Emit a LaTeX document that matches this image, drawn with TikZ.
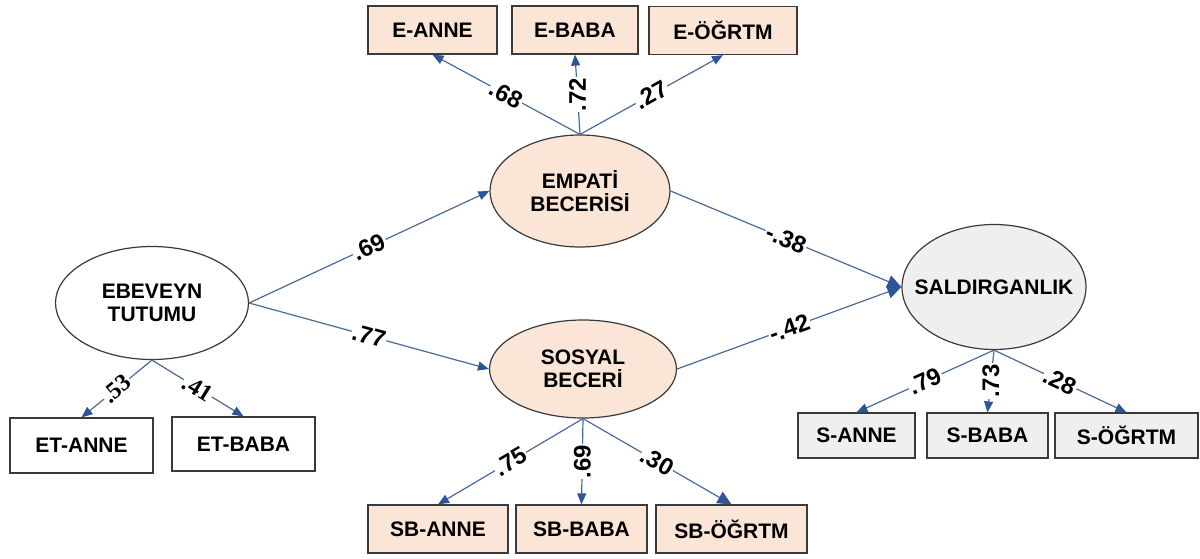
\documentclass[tikz,border=0pt]{standalone}
\usepackage{fontspec}
\setmainfont{Liberation Sans}
\newfontfamily\serifnum{Liberation Serif}
\usetikzlibrary{shapes.geometric,arrows.meta}

\definecolor{peach}{HTML}{FBE5D6}
\definecolor{greyfill}{HTML}{EFEFEF}
\definecolor{pathblue}{HTML}{4A6A9A}
\definecolor{tipblue}{HTML}{2E5597}
\definecolor{boxline}{HTML}{3A3A3A}

\tikzset{
  varbox/.style={draw=boxline, line width=0.6pt, minimum height=24pt, inner sep=0pt,
    font=\bfseries\fontsize{10.5}{11.5}\selectfont},
  latent/.style={ellipse, draw=boxline, line width=0.6pt, inner sep=0pt},
  latenttext/.style={align=center, inner sep=0pt, font=\bfseries\fontsize{10.5}{11.5}\selectfont},
  link/.style={draw=pathblue, line width=0.6pt, -{Triangle[length=5.5pt,width=4.5pt,color=tipblue]}},
  biglink/.style={draw=pathblue, line width=0.6pt, -{Triangle[length=7pt,width=6.5pt,color=tipblue]}},
  coef/.style={fill=white, inner sep=0.6pt, font=\bfseries\fontsize{12}{12}\selectfont},
  serifcoef/.style={coef, font=\serifnum\bfseries\fontsize{12}{12}\selectfont},
}

\begin{document}
\begin{tikzpicture}[x=0.5pt, y=-0.5pt]
  \useasboundingbox (0,0) rectangle (1200,558);

  % Latent variables
  \node[latent, fill=white, minimum width=96.5pt, minimum height=56.5pt] (ebeveyn) at (152,303) {};
  \node[latenttext] (ebeveyntext) at (ebeveyn) {EBEVEYN\\TUTUMU};
  \node[latent, fill=peach, minimum width=90pt, minimum height=56pt] (empati) at (580,191) {};
  \node[latenttext] (empatitext) at (empati) {EMPATİ\\BECERİSİ};
  \node[latent, fill=peach, minimum width=93.5pt, minimum height=49pt] (sosyal) at (583,369) {};
  \node[latenttext] (sosyaltext) at (sosyal) {SOSYAL\\BECERİ};
  \node[latent, fill=greyfill, minimum width=92pt, minimum height=62.5pt] (saldir) at (994,287) {};
  \node[latenttext] (saldirtext) at (saldir) {SALDIRGANLIK};

  % Indicators of empathy
  \node[varbox, fill=peach, minimum width=64.5pt] (eanne) at (432.5,30) {E-ANNE};
  \node[varbox, fill=peach, minimum width=63pt] (ebaba) at (575,30) {E-BABA};
  \node[varbox, fill=peach, minimum width=74pt] (eogrtm) at (723,30.5) {E-ÖĞRTM};

  % Indicators of parental attitude
  \node[varbox, fill=white, minimum width=71.5pt, minimum height=27.5pt] (etanne) at (81.5,445.5) {ET-ANNE};
  \node[varbox, fill=white, minimum width=71.5pt, minimum height=27pt] (etbaba) at (243.5,444) {ET-BABA};

  % Indicators of social skill
  \node[varbox, fill=peach, minimum width=70pt] (sbanne) at (438,529) {SB-ANNE};
  \node[varbox, fill=peach, minimum width=65.5pt] (sbbaba) at (581.5,529) {SB-BABA};
  \node[varbox, fill=peach, minimum width=75.5pt] (sbogrtm) at (731.5,529) {SB-ÖĞRTM};

  % Indicators of aggression
  \node[varbox, fill=greyfill, minimum width=58.5pt, minimum height=22.5pt] (sanne) at (856.5,435.5) {S-ANNE};
  \node[varbox, fill=greyfill, minimum width=60.5pt, minimum height=22.5pt] (sbaba) at (987.5,435.5) {S-BABA};
  \node[varbox, fill=greyfill, minimum width=71.5pt, minimum height=22.5pt] (sogrtm) at (1126.5,435.5) {S-ÖĞRTM};

  % Structural paths
  \draw[link] (ebeveyn.east) -- node[coef, sloped] {.69} (empati.west);
  \draw[link] (ebeveyn.east) -- node[coef, sloped] {.77} (sosyal.west);
  \draw[biglink] (empati.east) -- node[coef, sloped] {-.38} (saldir.west);
  \draw[biglink] (sosyal.east) -- node[coef, sloped] {-.42} (saldir.west);

  % Loadings
  \draw[link] (empati.north) -- node[coef, sloped] {.68} (eanne.south);
  \draw[link] (empati.north) -- node[coef, rotate=90] {.72} (ebaba.south);
  \draw[link] (empati.north) -- node[coef, sloped] {.27} (eogrtm.south);

  \draw[link] (ebeveyn.south) -- node[serifcoef, sloped] {.53} (etanne.north);
  \draw[link] (ebeveyn.south) -- node[serifcoef, sloped] {.41} (etbaba.north);

  \draw[link] (sosyal.south) -- node[coef, sloped] {.75} (sbanne.north);
  \draw[link] (sosyal.south) -- node[coef, rotate=90] {.69} (sbbaba.north);
  \draw[biglink] (sosyal.south) -- node[coef, sloped] {.30} (sbogrtm.north);

  \draw[link] (saldir.south) -- node[coef, sloped] {.79} (sanne.north);
  \draw[link] (saldir.south) -- node[coef, rotate=90] {.73} (sbaba.north);
  \draw[link] (saldir.south) -- node[coef, sloped] {.28} (sogrtm.north);
\end{tikzpicture}
\end{document}
